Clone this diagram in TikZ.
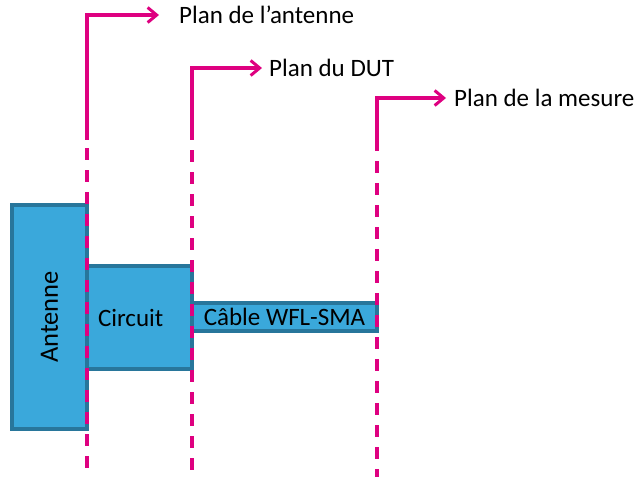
\documentclass[tikz,border=0pt]{standalone}
\usepackage{fontspec}
\setmainfont{Carlito}
\usetikzlibrary{arrows.meta,positioning}
\definecolor{plane}{RGB}{222,0,128}
\definecolor{part}{RGB}{58,168,219}
\definecolor{partedge}{RGB}{40,118,155}

\begin{document}
\begin{tikzpicture}[x=1pt, y=-1pt,
    txt/.style={font=\fontsize{25}{29}\selectfont, color=black},
    block/.style={txt, draw=partedge, fill=part, line width=3.2pt, inner sep=0pt},
    lab/.style={txt, anchor=west, inner sep=0pt},
    plan/.style={color=plane, line width=3.2pt},
    cut/.style={plan, dash pattern=on 12pt off 10pt},
    reach/.style={plan, -{Straight Barb[length=9pt, width=15pt, line width=3pt]}}]

  \useasboundingbox (0,0) rectangle (638,477);

  % ---- the three parts, left to right -----------------------------------------
  \node[block, minimum width=75pt, minimum height=224pt] (ant) at (49.5,317) {};
  \node[txt, rotate=90, font=\fontsize{26.5}{30}\selectfont] (antTxt)
    at (ant.center) {Antenne};
  \node[block, minimum width=105pt, minimum height=103pt, text width=83pt,
        inner xsep=11pt, align=left] (cir) at (139.5,317.5) {Circuit};
  \node[block, minimum width=185pt, minimum height=28pt] (cab) at (284.5,317)
    {Câble WFL-SMA};

  % ---- reference planes: corner, end of solid part, arrow tip ----------------
  \coordinate (antTop) at (87,15);   \coordinate (antMid) at (87,138);
  \coordinate (dutTop) at (192,68);  \coordinate (dutMid) at (192,138);
  \coordinate (mesTop) at (377,98);  \coordinate (mesMid) at (377,138);
  \coordinate (antTip) at (159,15);
  \coordinate (dutTip) at (262,68);
  \coordinate (mesTip) at (446,98);

  \node[lab, right=20pt of antTip] (antLab) {Plan de l’antenne};
  \node[lab, right=7pt of dutTip] (dutLab) {Plan du DUT};
  \node[lab, right=8pt of mesTip] (mesLab) {Plan de la mesure};

  \foreach \p in {ant,dut,mes} {
    \draw[plan, line cap=rect] (\p Mid) -- (\p Top);
    \draw[reach] (\p Top) -- (\p Tip);
  }

  % dashed continuation down through the parts
  \coordinate (antLow) at (87,477);
  \coordinate (dutLow) at (192,477);
  \coordinate (mesLow) at (377,477);
  \draw[cut] ([yshift=12pt]antMid) -- (antLow);
  \draw[cut] ([yshift=10pt]dutMid) -- (dutLow);
  \draw[cut] ([yshift=21pt]mesMid) -- (mesLow);
\end{tikzpicture}
\end{document}
